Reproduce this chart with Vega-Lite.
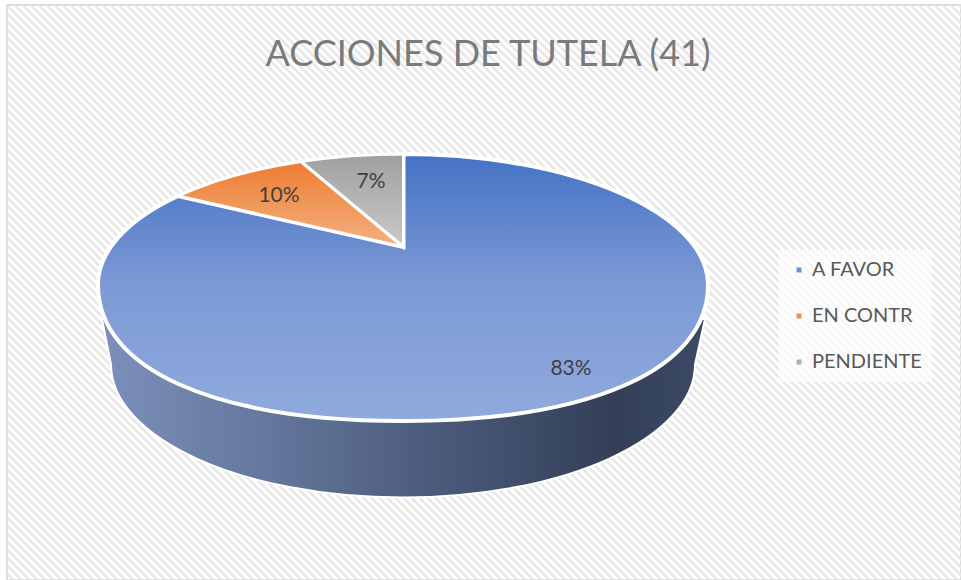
{"$schema":"https://vega.github.io/schema/vega-lite/v6.json","width":954,"height":575,"autosize":"none","padding":{"left":7,"top":5,"right":0,"bottom":0},"background":"white","view":{"stroke":"#dcdcdc","strokeWidth":2,"fill":"white"},"title":{"text":"ACCIONES DE TUTELA (41)","font":"Lato","fontSize":36,"fontWeight":"normal","color":"#7a7a7a","anchor":"middle","offset":-69,"dx":4},"data":{"values":[{"category":"A FAVOR","share":0.83},{"category":"EN CONTR","share":0.10},{"category":"PENDIENTE","share":0.07}]},"layer":[
{"data":{"values":[{"pattern":"hatch"}]},"mark":{"type":"point","clip":true,"size":4,"opacity":1,"filled":false,"stroke":"#e7e7e7","strokeWidth":2.6,"shape":"M -1090 -300 l 600 600 m -592 -600 l 600 600 m -592 -600 l 600 600 m -592 -600 l 600 600 m -592 -600 l 600 600 m -592 -600 l 600 600 m -592 -600 l 600 600 m -592 -600 l 600 600 m -592 -600 l 600 600 m -592 -600 l 600 600 m -592 -600 l 600 600 m -592 -600 l 600 600 m -592 -600 l 600 600 m -592 -600 l 600 600 m -592 -600 l 600 600 m -592 -600 l 600 600 m -592 -600 l 600 600 m -592 -600 l 600 600 m -592 -600 l 600 600 m -592 -600 l 600 600 m -592 -600 l 600 600 m -592 -600 l 600 600 m -592 -600 l 600 600 m -592 -600 l 600 600 m -592 -600 l 600 600 m -592 -600 l 600 600 m -592 -600 l 600 600 m -592 -600 l 600 600 m -592 -600 l 600 600 m -592 -600 l 600 600 m -592 -600 l 600 600 m -592 -600 l 600 600 m -592 -600 l 600 600 m -592 -600 l 600 600 m -592 -600 l 600 600 m -592 -600 l 600 600 m -592 -600 l 600 600 m -592 -600 l 600 600 m -592 -600 l 600 600 m -592 -600 l 600 600 m -592 -600 l 600 600 m -592 -600 l 600 600 m -592 -600 l 600 600 m -592 -600 l 600 600 m -592 -600 l 600 600 m -592 -600 l 600 600 m -592 -600 l 600 600 m -592 -600 l 600 600 m -592 -600 l 600 600 m -592 -600 l 600 600 m -592 -600 l 600 600 m -592 -600 l 600 600 m -592 -600 l 600 600 m -592 -600 l 600 600 m -592 -600 l 600 600 m -592 -600 l 600 600 m -592 -600 l 600 600 m -592 -600 l 600 600 m -592 -600 l 600 600 m -592 -600 l 600 600 m -592 -600 l 600 600 m -592 -600 l 600 600 m -592 -600 l 600 600 m -592 -600 l 600 600 m -592 -600 l 600 600 m -592 -600 l 600 600 m -592 -600 l 600 600 m -592 -600 l 600 600 m -592 -600 l 600 600 m -592 -600 l 600 600 m -592 -600 l 600 600 m -592 -600 l 600 600 m -592 -600 l 600 600 m -592 -600 l 600 600 m -592 -600 l 600 600 m -592 -600 l 600 600 m -592 -600 l 600 600 m -592 -600 l 600 600 m -592 -600 l 600 600 m -592 -600 l 600 600 m -592 -600 l 600 600 m -592 -600 l 600 600 m -592 -600 l 600 600 m -592 -600 l 600 600 m -592 -600 l 600 600 m -592 -600 l 600 600 m -592 -600 l 600 600 m -592 -600 l 600 600 m -592 -600 l 600 600 m -592 -600 l 600 600 m -592 -600 l 600 600 m -592 -600 l 600 600 m -592 -600 l 600 600 m -592 -600 l 600 600 m -592 -600 l 600 600 m -592 -600 l 600 600 m -592 -600 l 600 600 m -592 -600 l 600 600 m -592 -600 l 600 600 m -592 -600 l 600 600 m -592 -600 l 600 600 m -592 -600 l 600 600 m -592 -600 l 600 600 m -592 -600 l 600 600 m -592 -600 l 600 600 m -592 -600 l 600 600 m -592 -600 l 600 600 m -592 -600 l 600 600 m -592 -600 l 600 600 m -592 -600 l 600 600 m -592 -600 l 600 600 m -592 -600 l 600 600 m -592 -600 l 600 600 m -592 -600 l 600 600 m -592 -600 l 600 600 m -592 -600 l 600 600 m -592 -600 l 600 600 m -592 -600 l 600 600 m -592 -600 l 600 600 m -592 -600 l 600 600 m -592 -600 l 600 600 m -592 -600 l 600 600 m -592 -600 l 600 600 m -592 -600 l 600 600 m -592 -600 l 600 600 m -592 -600 l 600 600 m -592 -600 l 600 600 m -592 -600 l 600 600 m -592 -600 l 600 600 m -592 -600 l 600 600 m -592 -600 l 600 600 m -592 -600 l 600 600 m -592 -600 l 600 600 m -592 -600 l 600 600 m -592 -600 l 600 600 m -592 -600 l 600 600 m -592 -600 l 600 600 m -592 -600 l 600 600 m -592 -600 l 600 600 m -592 -600 l 600 600 m -592 -600 l 600 600 m -592 -600 l 600 600 m -592 -600 l 600 600 m -592 -600 l 600 600 m -592 -600 l 600 600 m -592 -600 l 600 600 m -592 -600 l 600 600 m -592 -600 l 600 600 m -592 -600 l 600 600 m -592 -600 l 600 600 m -592 -600 l 600 600 m -592 -600 l 600 600 m -592 -600 l 600 600 m -592 -600 l 600 600 m -592 -600 l 600 600 m -592 -600 l 600 600 m -592 -600 l 600 600 m -592 -600 l 600 600 m -592 -600 l 600 600 m -592 -600 l 600 600 m -592 -600 l 600 600 m -592 -600 l 600 600 m -592 -600 l 600 600 m -592 -600 l 600 600 m -592 -600 l 600 600 m -592 -600 l 600 600 m -592 -600 l 600 600 m -592 -600 l 600 600 m -592 -600 l 600 600 m -592 -600 l 600 600 m -592 -600 l 600 600 m -592 -600 l 600 600 m -592 -600 l 600 600 m -592 -600 l 600 600 m -592 -600 l 600 600 m -592 -600 l 600 600 m -592 -600 l 600 600 m -592 -600 l 600 600 m -592 -600 l 600 600 m -592 -600 l 600 600 m -592 -600 l 600 600 m -592 -600 l 600 600 m -592 -600 l 600 600 m -592 -600 l 600 600 m -592 -600 l 600 600 m -592 -600 l 600 600 m -592 -600 l 600 600 m -592 -600 l 600 600 m -592 -600 l 600 600 m -592 -600 l 600 600 m -592 -600 l 600 600 m -592 -600 l 600 600 m -592 -600 l 600 600 m -592 -600 l 600 600 m -592 -600 l 600 600 m -592 -600 l 600 600 m -592 -600 l 600 600 m -592 -600 l 600 600 m -592 -600 l 600 600 m -592 -600 l 600 600"}},
{"transform":[{"filter":"datum.category === 'A FAVOR'"}],"mark":{"type":"point","size":4,"opacity":1,"filled":true,"stroke":"white","strokeWidth":2,"shape":"M -382 26.5 L -373 72 A 292 133 0 0 0 211 72 L 221 26.5 Z","fill":{"gradient":"linear","x1":0,"y1":0,"x2":1,"y2":0,"stops":[{"offset":0,"color":"#7b90ba"},{"offset":0.25,"color":"#66799f"},{"offset":0.55,"color":"#4b5b7b"},{"offset":0.85,"color":"#333f57"},{"offset":1,"color":"#3c4a66"}]}}},
{"mark":{"type":"point","size":4,"opacity":1,"filled":true,"shape":"square"},"encoding":{"color":{"field":"category","type":"nominal","scale":{"domain":["A FAVOR","EN CONTR","PENDIENTE"],"range":["#6a8ed6","#f0904f","#b0b0b0"]},"legend":{"title":null,"orient":"none","legendX":772,"legendY":245,"padding":10,"fillColor":"rgba(255,255,255,0.65)","symbolType":"square","symbolSize":25,"symbolStrokeWidth":0,"labelFont":"Lato","labelFontSize":20,"labelColor":"#595959","labelOffset":3,"rowPadding":26,"labelLimit":200}}}},
{"transform":[{"filter":"datum.category === 'A FAVOR'"}],"mark":{"type":"point","size":4,"opacity":1,"filled":true,"stroke":"white","strokeWidth":4,"shape":"M -80.5 -138.5 A 305 131 0 0 1 224 -7.5 C 224 76.5 108 128.5 -81 128.5 C -270 128.5 -386 76.5 -386 -7.5 A 305 131 0 0 1 -306 -96.5 L -80.5 -45.5 Z","fill":{"gradient":"linear","x1":0,"y1":0,"x2":0,"y2":1,"stops":[{"offset":0,"color":"#4472c4"},{"offset":0.5,"color":"#7e9ad6"},{"offset":1,"color":"#8faadc"}]}}},
{"transform":[{"filter":"datum.category === 'EN CONTR'"}],"mark":{"type":"point","size":4,"opacity":1,"filled":true,"stroke":"white","strokeWidth":3,"shape":"M -306 -96.5 A 305 131 0 0 1 -183 -131 L -80.5 -45.5 Z","fill":{"gradient":"linear","x1":0,"y1":0,"x2":0,"y2":1,"stops":[{"offset":0,"color":"#ed7d31"},{"offset":1,"color":"#f4b183"}]}}},
{"transform":[{"filter":"datum.category === 'PENDIENTE'"}],"mark":{"type":"point","size":4,"opacity":1,"filled":true,"stroke":"white","strokeWidth":3,"shape":"M -183 -131 A 305 131 0 0 1 -80.5 -138.5 L -80.5 -45.5 Z","fill":{"gradient":"linear","x1":0,"y1":0,"x2":0,"y2":1,"stops":[{"offset":0,"color":"#a0a0a0"},{"offset":1,"color":"#c9c9c9"}]}}},
{"transform":[{"filter":"datum.category === 'A FAVOR'"}],"mark":{"type":"text","font":"Lato","fontSize":21,"color":"#404040","dx":87,"dy":76},"encoding":{"text":{"field":"share","type":"quantitative","format":".0%"}}},
{"transform":[{"filter":"datum.category === 'EN CONTR'"}],"mark":{"type":"text","font":"Lato","fontSize":21,"color":"#404040","dx":-205,"dy":-97},"encoding":{"text":{"field":"share","type":"quantitative","format":".0%"}}},
{"transform":[{"filter":"datum.category === 'PENDIENTE'"}],"mark":{"type":"text","font":"Lato","fontSize":21,"color":"#404040","dx":-113,"dy":-111},"encoding":{"text":{"field":"share","type":"quantitative","format":".0%"}}}
]}
